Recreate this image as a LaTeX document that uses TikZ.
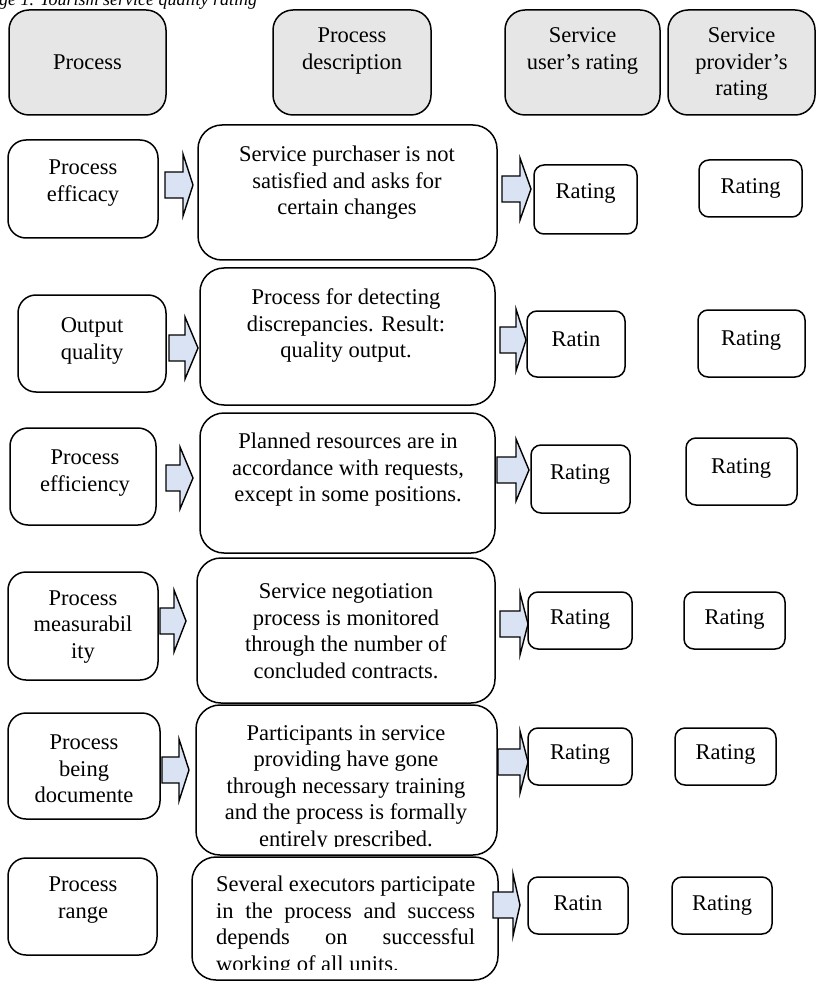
\documentclass[tikz,border=0pt]{standalone}
\usepackage{fontspec}
\setmainfont{Liberation Serif}
\usetikzlibrary{fit}
\definecolor{hdrgray}{HTML}{E6E6E6}
\definecolor{arrblue}{HTML}{DAE3F3}
\tikzset{
  box/.style={draw=black, line width=1.5pt, fill=white, inner sep=0pt},
  hdr/.style={box, fill=hdrgray, rounded corners=20pt},
  pbox/.style={box, rounded corners=18pt},
  dbox/.style={box, rounded corners=24pt},
  rbox/.style={box, rounded corners=10pt},
  txt/.style={align=center, inner sep=0pt, font=\fontsize{22.5}{26.5}\selectfont},
  barr/.style={draw=black, line width=1.4pt, fill=arrblue, line join=miter},
}
\newcommand{\blockarr}[4]{% x0, x1 (head base), x2 (tip), ymid
  \draw[barr] (#1,#4-13) -- (#2,#4-13) -- (#2,#4-31) -- (#3,#4) -- (#2,#4+31)
    -- (#2,#4+13) -- (#1,#4+13) -- cycle;}
\begin{document}
\begin{tikzpicture}[x=1pt,y=-1pt]
\useasboundingbox (0,0) rectangle (817,981);
\clip (0,0) rectangle (817,981);

% caption (cut at top, as in the reference)
\node[anchor=base west, inner sep=0pt, font=\fontsize{18}{22}\selectfont\itshape] (cap) at (-1,6) {ge 1. Tourism service quality rating};

% header
\node[hdr, fit={(9,10) (166,115)}] (h1) {};
\node[txt] (h1t) at (87.5,62) {Process};
\node[hdr, fit={(273,10) (431,115)}] (h2) {};
\node[txt] (h2t) at (352,51) {Process\\description};
\node[hdr, fit={(505,10) (660,115)}] (h3) {};
\node[txt] (h3t) at (582.5,51) {Service\\user’s rating};
\node[hdr, fit={(668,10) (815,115)}] (h4) {};
\node[txt] (h4t) at (741.5,64) {Service\\provider’s\\rating};

% row 1
\node[pbox, fit={(8,140) (158,238)}] (p1) {};
\node[txt] (p1t) at (83,183) {Process\\efficacy};
\node[dbox, fit={(198,125) (497,260)}] (d1) {};
\node[txt] (d1t) at (347,183) {Service purchaser is not\\satisfied and asks for\\certain changes};
\node[rbox, fit={(534,165) (637,234)}] (r1a) {};
\node[txt] (r1at) at (585.5,193) {Rating};
\node[rbox, fit={(699,160) (802,217)}] (r1b) {};
\node[txt] (r1bt) at (750.5,188) {Rating};

% row 2
\node[pbox, fit={(18,295) (166,392)}] (p2) {};
\node[txt] (p2t) at (92,341) {Output\\quality};
\node[dbox, fit={(200,268) (495,405)}] (d2) {};
\node[txt] (d2t) at (346,326) {Process for detecting\\discrepancies. Result:\\quality output.};
\node[rbox, fit={(527,311) (625,377)}] (r2a) {};
\node[txt] (r2at) at (576,339) {Ratin};
\node[rbox, fit={(698,310) (805,377)}] (r2b) {};
\node[txt] (r2bt) at (751,340) {Rating};

% row 3
\node[pbox, fit={(10,428) (156,525)}] (p3) {};
\node[txt] (p3t) at (85,473) {Process\\efficiency};
\node[dbox, fit={(200,413) (495,553)}] (d3) {};
\node[txt] (d3t) at (348,470) {Planned resources are in\\accordance with requests,\\except in some positions.};
\node[rbox, fit={(531,445) (630,513)}] (r3a) {};
\node[txt] (r3at) at (580,474) {Rating};
\node[rbox, fit={(686,438) (797,505)}] (r3b) {};
\node[txt] (r3bt) at (741,468) {Rating};

% row 4
\node[pbox, fit={(8,572) (158,680)}] (p4) {};
\node[txt] (p4t) at (83,627) {Process\\measurabil\\ity};
\node[dbox, fit={(197,558) (495,703)}] (d4) {};
\node[txt] (d4t) at (346,631) {Service negotiation\\process is monitored\\through the number of\\concluded contracts.};
\node[rbox, fit={(528,592) (632,649)}] (r4a) {};
\node[txt] (r4at) at (580,619) {Rating};
\node[rbox, fit={(684,592) (785,649)}] (r4b) {};
\node[txt] (r4bt) at (734.5,619) {Rating};

% row 5
\node[pbox, fit={(8,713) (160,819)}] (p5) {};
\node[txt] (p5t) at (84,769) {Process\\being\\documente};
\node[dbox, fit={(196,705) (497,855)}] (d5) {};
\begin{scope}
  \clip (196,705) rectangle (497,846);
  \node[txt] (d5t) at (346,788) {Participants in service\\providing have gone\\through necessary training\\and the process is formally\\entirely prescribed.};
\end{scope}
\node[rbox, fit={(528,728) (632,785)}] (r5a) {};
\node[txt] (r5at) at (580,754) {Rating};
\node[rbox, fit={(675,728) (776,785)}] (r5b) {};
\node[txt] (r5bt) at (725.5,754) {Rating};

% row 6
\node[pbox, fit={(8,858) (157,955)}] (p6) {};
\node[txt] (p6t) at (83,900) {Process\\range};
\node[dbox, fit={(192,857) (498,980)}] (d6) {};
\begin{scope}
  \clip (192,857) rectangle (498,969);
  \node[txt, align=left, anchor=north west] (d6t) at (216,876) {%
    \makebox[259pt][s]{Several executors participate}\\
    \makebox[259pt][s]{in the process and success}\\
    \makebox[259pt][s]{depends on successful}\\
    working of all units.};
\end{scope}
\node[rbox, fit={(528,877) (628,934)}] (r6a) {};
\node[txt] (r6at) at (578,903) {Ratin};
\node[rbox, fit={(672,877) (772,934)}] (r6b) {};
\node[txt] (r6bt) at (722,905) {Rating};

% block arrows
\blockarr{165}{183}{193}{185}
\blockarr{502}{520}{531}{189}
\blockarr{169}{185}{198}{348}
\blockarr{500}{516}{526}{340}
\blockarr{166}{180}{193}{478}
\blockarr{497}{516}{529}{470}
\blockarr{160}{174}{186}{621}
\blockarr{500}{520}{528}{624}
\blockarr{162}{179}{189}{770}
\blockarr{498}{520}{528}{762}
\blockarr{493}{513}{520}{905}
\end{tikzpicture}
\end{document}
